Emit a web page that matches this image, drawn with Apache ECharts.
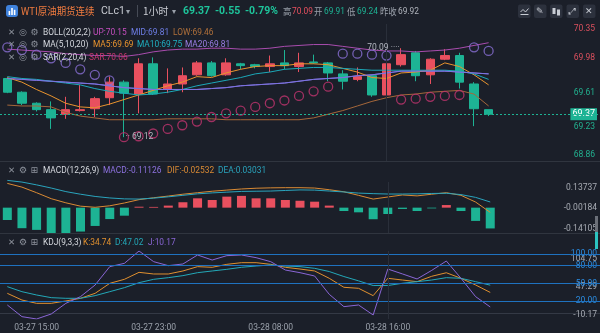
<!DOCTYPE html>
<html>
<head>
<meta charset="utf-8">
<script src="https://cdn.jsdelivr.net/npm/echarts@6/dist/echarts.min.js"></script>
<style>
html,body{margin:0;padding:0;background:#1b1f29;overflow:hidden}
#chart{width:600px;height:333px}
</style>
</head>
<body>
<div id="chart"></div>
<script>
// ---------------- data ----------------
const categories = ['03-27 13:00','03-27 14:00','03-27 15:00','03-27 16:00','03-27 17:00','03-27 18:00','03-27 19:00','03-27 20:00','03-27 21:00','03-27 22:00','03-27 23:00','03-28 00:00','03-28 01:00','03-28 02:00','03-28 03:00','03-28 04:00','03-28 06:00','03-28 07:00','03-28 08:00','03-28 09:00','03-28 10:00','03-28 11:00','03-28 12:00','03-28 13:00','03-28 14:00','03-28 15:00','03-28 16:00','03-28 17:00','03-28 18:00','03-28 19:00','03-28 20:00','03-28 21:00','03-28 22:00','03-28 23:00'];
const tickLabels = ['03-27 15:00','03-27 23:00','03-28 08:00','03-28 16:00'];

const openP  = [69.76,69.61,69.49,69.42,69.37,69.41,69.43,69.55,69.72,69.59,69.92,69.64,69.70,69.80,69.93,69.80,69.92,69.91,69.89,69.93,69.89,69.94,69.93,69.81,69.75,69.79,69.58,69.91,70.04,69.80,69.97,70.01,69.70,69.42];
const closeP = [69.61,69.49,69.42,69.33,69.42,69.42,69.54,69.72,69.60,69.92,69.59,69.70,69.79,69.93,69.79,69.93,69.90,69.89,69.92,69.90,69.93,69.93,69.82,69.73,69.78,69.58,69.92,70.02,69.79,69.97,70.01,69.72,69.43,69.37];
const lowP   = [69.60,69.47,69.40,69.21,69.32,69.40,69.34,69.47,69.12,69.38,69.58,69.60,69.61,69.79,69.78,69.79,69.86,69.87,69.83,69.86,69.83,69.92,69.73,69.64,69.73,69.56,69.57,69.89,69.73,69.70,69.96,69.65,69.24,69.35];
const highP  = [69.77,69.62,69.50,69.51,69.56,69.69,69.56,69.78,69.74,69.98,69.99,69.87,69.88,69.95,69.95,69.98,69.93,69.92,70.01,70.07,70.04,70.02,69.94,69.85,69.88,69.80,69.93,70.09,70.06,69.98,70.08,70.04,69.72,69.42];

const ma5  = [69.77,69.72,69.64,69.57,69.49,69.45,69.44,69.48,69.53,69.58,69.63,69.68,69.72,69.78,69.77,69.82,69.86,69.89,69.90,69.90,69.92,69.92,69.91,69.87,69.83,69.77,69.76,69.82,69.83,69.85,69.93,69.89,69.80,69.69];
const ma10 = [69.78,69.76,69.75,69.73,69.71,69.69,69.65,69.62,69.60,69.58,69.59,69.61,69.64,69.68,69.71,69.74,69.77,69.81,69.83,69.86,69.87,69.88,69.88,69.87,69.86,69.85,69.85,69.85,69.85,69.85,69.85,69.84,69.81,69.75];
const ma20 = [69.76,69.75,69.74,69.73,69.72,69.71,69.70,69.68,69.66,69.65,69.64,69.64,69.64,69.64,69.65,69.66,69.68,69.69,69.70,69.71,69.73,69.75,69.76,69.77,69.79,69.80,69.82,69.84,69.84,69.84,69.84,69.83,69.82,69.81];
const bollUp  = [70.08,70.07,70.06,70.05,70.03,70.02,70.01,70.01,70.00,70.02,70.05,70.07,70.08,70.08,70.09,70.09,70.08,70.08,70.09,70.11,70.12,70.13,70.13,70.11,70.09,70.07,70.06,70.06,70.05,70.06,70.07,70.09,70.12,70.15];
const bollMid = [69.76,69.75,69.74,69.73,69.72,69.71,69.70,69.68,69.66,69.65,69.64,69.64,69.64,69.64,69.65,69.66,69.68,69.69,69.70,69.71,69.73,69.75,69.76,69.77,69.79,69.80,69.82,69.84,69.84,69.84,69.84,69.83,69.82,69.81];
const bollLow = [69.47,69.46,69.46,69.45,69.39,69.35,69.33,69.31,69.31,69.31,69.31,69.32,69.32,69.32,69.32,69.31,69.31,69.31,69.31,69.31,69.31,69.33,69.37,69.41,69.46,69.51,69.55,69.58,69.59,69.61,69.62,69.63,69.59,69.46];
const sar = [70.10,70.07,70.02,69.98,69.93,69.86,69.80,69.74,69.12,69.13,69.16,69.21,69.25,69.29,69.34,69.38,69.41,69.45,69.49,69.52,69.57,69.62,69.67,70.03,70.03,70.02,70.01,69.53,69.54,69.56,69.57,69.58,70.10,70.06];

const macdHist = [-0.066,-0.110,-0.119,-0.141,-0.137,-0.128,-0.098,-0.061,-0.043,0.005,0.004,0.011,0.029,0.050,0.041,0.059,0.063,0.050,0.050,0.041,0.037,0.032,0.011,-0.018,-0.025,-0.062,-0.034,-0.007,-0.018,-0.004,0.014,-0.018,-0.071,-0.11126];
const dif = [0.130,0.110,0.080,0.048,0.026,0.008,0.002,0.010,0.025,0.043,0.053,0.062,0.072,0.080,0.088,0.094,0.100,0.104,0.106,0.107,0.107,0.105,0.096,0.085,0.066,0.046,0.057,0.068,0.063,0.072,0.080,0.066,0.030,-0.02532];
const dea = [0.146,0.137,0.122,0.105,0.086,0.072,0.060,0.052,0.047,0.046,0.051,0.058,0.066,0.074,0.079,0.083,0.087,0.088,0.089,0.092,0.095,0.094,0.089,0.084,0.078,0.075,0.073,0.073,0.074,0.076,0.077,0.070,0.055,0.03031];

const kLine = [33.2,21.9,16.3,16.3,20.3,24.8,33.2,50.1,56.9,68.7,65.9,65.9,71.0,78.3,77.2,82.2,85.0,85.0,82.2,77.2,74.3,71.0,58.6,43.4,41.7,29.3,58.6,55.7,52.9,62.0,68.0,58.6,47.3,34.74];
const dLine = [44.5,36.0,30.4,25.9,24.8,24.8,29.3,36.0,42.8,51.2,56.9,59.7,63.1,68.1,71.0,73.8,77.2,79.4,81.1,79.4,78.3,75.5,70.0,61.6,54.3,46.4,46.4,50.2,52.9,55.7,59.7,58.6,52.9,47.02];
const jLine = [13.5,-6.2,-10.17,-1.7,16.3,27.6,47.3,78.3,83.9,104.75,86.7,80.0,82.8,98.0,89.5,96.9,98.0,93.5,86.7,72.6,68.1,62.5,31.5,10.7,13.5,-3.4,74.3,66.0,57.5,72.0,87.8,58.6,27.6,10.17];
const kdjLevels = [100, 80, 50, 20];

const prevClose = 69.92;
const dayOpen = 69.91;
const mainRange = [68.86, 70.354];
const macdRange = [-0.14105, 0.13737];
const kdjRange  = [-10.17, 104.75];

// ---------------- helpers ----------------
const UP = '#e9505f', DOWN = '#1db394';
const FONT = 'Roboto, "Noto Sans", sans-serif';
const N = categories.length;
const last = N - 1;
const candleData = categories.map((_, i) => [openP[i], closeP[i], lowP[i], highP[i]]);
let maxIdx = 0, minIdx = 0;
highP.forEach((v, i) => { if (v > highP[maxIdx]) maxIdx = i; });
lowP.forEach((v, i) => { if (v < lowP[minIdx]) minIdx = i; });
let dayLow = Infinity;
lowP.forEach((v, i) => { if (categories[i] >= '03-28 06:00' && v < dayLow) dayLow = v; });
const sarAbove = [], sarBelow = [];
sar.forEach((v, i) => { (v > closeP[i] ? sarAbove : sarBelow).push([i, v]); });
const lastClose = closeP[last];
const change = lastClose - prevClose;
const three = r => [r[0], (r[0] + r[1]) / 2, r[1]];
const mainTicks = [0,1,2,3,4].map(i => mainRange[0] + i * (mainRange[1] - mainRange[0]) / 4);
const AX = 8.5;

function edgeRich(color, tp, bp, mp) {
  return {
    T: {color, fontSize: AX, fontFamily: FONT, padding: [tp, 0, 0, 0]},
    M: {color, fontSize: AX, fontFamily: FONT, padding: [mp || 0, 0, 0, 0]},
    B: {color, fontSize: AX, fontFamily: FONT, padding: [0, 0, bp, 0]}
  };
}
function edgeKey(v, r) {
  if (Math.abs(v - r[1]) < 1e-9) return 'T';
  if (Math.abs(v - r[0]) < 1e-9) return 'B';
  return 'M';
}

// ---------------- graphics (header + legends) ----------------
function T(x, y, text, fill, size, family, weight, sx) {
  return {type: 'text', x, y, z: 100, silent: true, scaleX: sx == null ? 0.88 : sx,
    style: {text, fill, font: (weight || 'normal') + ' ' + (size || 9.5) + 'px ' + (family || FONT), verticalAlign: 'middle', align: 'left'}};
}
const ICON = '"DejaVu Sans", sans-serif';
const CJK = '"Noto Sans CJK SC", sans-serif';
const g = [];
// header icon
g.push({type:'rect', shape:{x:6,y:5,width:12,height:12,r:3}, style:{fill:'#3f82dc'}, z:100});
g.push({type:'rect', shape:{x:8.6,y:11,width:1.6,height:4}, style:{fill:'#fff'}, z:101});
g.push({type:'rect', shape:{x:11.2,y:8,width:1.6,height:7}, style:{fill:'#fff'}, z:101});
g.push({type:'rect', shape:{x:13.8,y:9.8,width:1.6,height:5.2}, style:{fill:'#fff'}, z:101});
g.push(T(21, 11.5, 'WTI原油期货连续', '#f07b3f', 10.5, CJK, 'normal', 0.9));
g.push(T(101, 11.5, 'CLc1', '#c9ccd3', 10.5, FONT, 'normal', 1));
g.push(T(126, 11.5, '▾', '#9aa0aa', 8, ICON, 'normal', 1));
g.push({type:'line', shape:{x1:137.5,y1:5,x2:137.5,y2:17}, style:{stroke:'#464b56', lineWidth:1}, z:100});
g.push(T(143, 11.5, '1小时', '#c9ccd3', 10.5, CJK, 'normal', 0.95));
g.push(T(172, 11.5, '▾', '#9aa0aa', 8, ICON, 'normal', 1));
g.push(T(183, 11.5, lastClose.toFixed(2), '#1ec49b', 11, FONT, 'bold', 0.95));
g.push(T(215, 11.5, change.toFixed(2), '#1ec49b', 11, FONT, 'bold', 0.95));
g.push(T(245, 11.5, (change / prevClose * 100).toFixed(2) + '%', '#1ec49b', 11, FONT, 'bold', 0.95));
g.push(T(283, 11.5, '高', '#9aa0aa', 9.5, CJK));
g.push(T(292, 11.5, highP[maxIdx].toFixed(2), UP, 9.5));
g.push(T(314, 11.5, '开', '#9aa0aa', 9.5, CJK));
g.push(T(324, 11.5, dayOpen.toFixed(2), DOWN, 9.5));
g.push(T(347, 11.5, '低', '#9aa0aa', 9.5, CJK));
g.push(T(357, 11.5, dayLow.toFixed(2), DOWN, 9.5));
g.push(T(380, 11.5, '昨收', '#9aa0aa', 9.5, CJK));
g.push(T(398, 11.5, prevClose.toFixed(2), '#b0b4bc', 9.5));
// right buttons
[518, 534, 550, 566.5, 583].forEach(x => g.push({type:'rect', shape:{x, y:4.5, width:12.5, height:13.5, r:2}, style:{fill:'#2c313d'}, z:100}));
g.push({type:'polyline', shape:{points:[[520.5,12],[523,9.5],[525.5,12],[528.5,8.5]]}, style:{stroke:'#c8ccd4', lineWidth:1, fill:null}, z:101});
g.push({type:'line', shape:{x1:520.5,y1:14.5,x2:528.5,y2:14.5}, style:{stroke:'#c8ccd4', lineWidth:1}, z:101});
g.push(T(536, 11.5, '✎', '#c8ccd4', 9, ICON, 'normal', 1));
g.push({type:'rect', shape:{x:552.5,y:8,width:3,height:6}, style:{fill:'#c8ccd4'}, z:101});
g.push({type:'rect', shape:{x:557,y:9.5,width:3,height:6}, style:{fill:'#c8ccd4'}, z:101});
g.push(T(568.5, 11.5, '⤢', '#c8ccd4', 9, ICON, 'normal', 1));
g.push(T(585, 11.5, '✕', '#c8ccd4', 9, ICON, 'normal', 1));

function icons(y, third) {
  g.push(T(8, y, '✕', '#8d929c', 8.5, ICON, 'normal', 1));
  g.push(T(19, y, third ? '⚙' : '◎', '#8d929c', 9, ICON, 'normal', 1));
  g.push(T(30.5, y, third || '⚙', '#8d929c', 9, ICON, 'normal', 1));
}
const W = '#d5d8de';
icons(32.5); icons(45); icons(58);
g.push(T(43, 32.5, 'BOLL(20,2,2)', W));
g.push(T(93, 32.5, 'UP:' + bollUp[last].toFixed(2), '#c64fc0'));
g.push(T(131, 32.5, 'MID:' + bollMid[last].toFixed(2), '#6f7fe8'));
g.push(T(173, 32.5, 'LOW:' + bollLow[last].toFixed(2), '#b0703a'));
g.push(T(43, 45, 'MA(5,10,20)', W));
g.push(T(93, 45, 'MA5:' + ma5[last].toFixed(2), '#e8932e'));
g.push(T(137, 45, 'MA10:' + ma10[last].toFixed(2), '#1fb0c0'));
g.push(T(185, 45, 'MA20:' + ma20[last].toFixed(2), '#9a7fe6'));
g.push(T(43, 58, 'SAR(2,20,4)', W));
g.push(T(89, 58, 'SAR:' + sar[last].toFixed(2), '#c8386f'));
icons(170.5, '⊞');
g.push(T(43, 170.5, 'MACD(12,26,9)', W));
g.push(T(103, 170.5, 'MACD:' + macdHist[last].toFixed(5), '#8e72e0'));
g.push(T(167, 170.5, 'DIF:' + dif[last].toFixed(5), '#d98a34'));
g.push(T(218, 170.5, 'DEA:' + dea[last].toFixed(5), '#2aa4bd'));
icons(242.5, '⊞');
g.push(T(43, 242.5, 'KDJ(9,3,3)', W));
g.push(T(83, 242.5, 'K:' + kLine[last].toFixed(2), '#e0902f'));
g.push(T(115, 242.5, 'D:' + dLine[last].toFixed(2), '#23a8b8'));
g.push(T(148, 242.5, 'J:' + jLine[last].toFixed(2), '#8a66d6'));
// pane separators and side bar
g.push({type:'line', shape:{x1:0,y1:161.5,x2:600,y2:161.5}, style:{stroke:'#30353f', lineWidth:1}, z:50});
g.push({type:'line', shape:{x1:0,y1:233.5,x2:600,y2:233.5}, style:{stroke:'#30353f', lineWidth:1}, z:50});
g.push({type:'rect', shape:{x:595,y:216,width:3,height:16}, style:{fill:'#6b6f78'}, z:100});
g.push({type:'rect', shape:{x:595,y:232,width:3,height:17}, style:{fill:'#2cc3c0'}, z:100});

// ---------------- chart ----------------
const grids = [
  {left: -5.7, right: 0, top: 24, height: 137},
  {left: -5.7, right: 0, top: 182, height: 52},
  {left: -5.7, right: 0, top: 251, height: 68}
];
const xAxes = [0,1,2].map(i => ({
  type: 'category', gridIndex: i, data: categories, max: 40, boundaryGap: true,
  axisLine: {show: i === 2, lineStyle: {color: '#343945'}},
  axisTick: {show: false},
  axisLabel: {show: i === 2, interval: (idx, v) => tickLabels.indexOf(v) >= 0, color: '#9aa0aa', fontSize: AX, fontFamily: FONT, margin: 4},
  splitLine: {show: false}
}));
const baseY = {type: 'value', position: 'right', axisLine: {show: false}, axisTick: {show: false}, splitLine: {show: false}};
const yAxes = [
  Object.assign({}, baseY, {gridIndex: 0, min: mainRange[0], max: mainRange[1],
    axisLabel: {inside: true, margin: 3, customValues: mainTicks,
      formatter: v => '{' + (v >= prevClose ? 'r' : 'g') + edgeKey(v, mainRange) + '|' + v.toFixed(2) + '}',
      rich: Object.assign({}, ...Object.entries(edgeRich('#d9505e', 10, 12)).map(([k, s]) => ({['r' + k]: s})),
                              ...Object.entries(edgeRich('#22b08f', 10, 12)).map(([k, s]) => ({['g' + k]: s})))}}),
  Object.assign({}, baseY, {gridIndex: 0, min: mainRange[0], max: mainRange[1],
    axisLabel: {inside: true, margin: 1, customValues: [lastClose], formatter: v => v.toFixed(2),
      color: '#fff', backgroundColor: DOWN, padding: [2, 2, 1, 2], fontSize: 9, fontFamily: FONT}}),
  Object.assign({}, baseY, {gridIndex: 1, min: macdRange[0], max: macdRange[1],
    axisLabel: {inside: true, margin: 3, customValues: three(macdRange),
      formatter: v => '{' + edgeKey(v, macdRange) + '|' + v.toFixed(5) + '}', rich: edgeRich('#a7abb3', 12, 10)}}),
  Object.assign({}, baseY, {gridIndex: 2, min: kdjRange[0], max: kdjRange[1],
    axisLabel: {inside: true, margin: 3, customValues: three(kdjRange),
      formatter: v => '{' + edgeKey(v, kdjRange) + '|' + v.toFixed(2) + '}', rich: edgeRich('#a7abb3', 16, 8, 4)}}),
  Object.assign({}, baseY, {gridIndex: 2, min: kdjRange[0], max: kdjRange[1],
    axisLabel: {inside: true, margin: 3, customValues: kdjLevels, formatter: v => v.toFixed(2),
      color: '#2a8be0', fontSize: AX, fontFamily: FONT}})
];

function line(name, data, color, xi, yi, extra) {
  return Object.assign({type: 'line', name, data, xAxisIndex: xi, yAxisIndex: yi, symbol: 'none', showSymbol: false,
    lineStyle: {color, width: 1}, itemStyle: {color}, z: 3, silent: true}, extra || {});
}
function sarSeries(name, data, color) {
  return {type: 'scatter', name, data, xAxisIndex: 0, yAxisIndex: 0, symbol: 'circle', symbolSize: 9, z: 4, silent: true,
    itemStyle: {color: 'rgba(0,0,0,0)', borderColor: color, borderWidth: 1.3}};
}
const vline = {xAxis: tickLabels[3], lineStyle: {color: '#2a2f3a', type: 'solid', width: 1}};

const option = {
  backgroundColor: '#1b1f29',
  animation: false,
  textStyle: {fontFamily: FONT},
  grid: grids,
  xAxis: xAxes,
  yAxis: yAxes,
  graphic: {elements: g},
  series: [
    {type: 'candlestick', name: 'CLc1', data: candleData, xAxisIndex: 0, yAxisIndex: 0, barWidth: 9, silent: true,
      itemStyle: {color: UP, color0: DOWN, borderColor: UP, borderColor0: DOWN, borderWidth: 1},
      markPoint: {symbol: 'circle', symbolSize: 1, silent: true, itemStyle: {color: 'rgba(0,0,0,0)'},
        data: [
          {coord: [maxIdx, highP[maxIdx]], label: {show: true, position: 'left', distance: 1, formatter: highP[maxIdx].toFixed(2) + ' ····', color: '#b5b9c2', fontSize: AX, fontFamily: FONT}},
          {coord: [minIdx, lowP[minIdx]], label: {show: true, position: 'right', distance: 1, formatter: '·· ' + lowP[minIdx].toFixed(2), color: '#b5b9c2', fontSize: AX, fontFamily: FONT}}
        ]},
      markLine: {symbol: 'none', silent: true, label: {show: false},
        data: [{yAxis: lastClose, lineStyle: {color: DOWN, type: [2, 2], width: 1}}, vline]}},
    line('BOLL UP', bollUp, '#a94cae', 0, 0),
    line('BOLL MID', bollMid, '#7d72e0', 0, 0),
    line('BOLL LOW', bollLow, '#a5673a', 0, 0),
    line('MA5', ma5, '#e8932e', 0, 0),
    line('MA10', ma10, '#1ba8b8', 0, 0),
    line('MA20', ma20, '#7d72e0', 0, 0),
    sarSeries('SAR up', sarAbove, '#8a6fd6'),
    sarSeries('SAR down', sarBelow, '#c2346f'),
    {type: 'bar', name: 'MACD', data: macdHist, xAxisIndex: 1, yAxisIndex: 2, barWidth: 9, silent: true,
      itemStyle: {color: p => p.value >= 0 ? UP : DOWN},
      markLine: {symbol: 'none', silent: true, label: {show: false}, data: [vline]}},
    line('DIF', dif, '#d98a34', 1, 2, {clip: false}),
    line('DEA', dea, '#2aa4bd', 1, 2, {clip: false}),
    line('K', kLine, '#e0902f', 2, 3, {
      markLine: {symbol: 'none', silent: true, label: {show: false},
        data: kdjLevels.map(v => ({yAxis: v, lineStyle: {color: '#1f72c0', type: 'solid', width: 1}})).concat([vline])}}),
    line('D', dLine, '#23a8b8', 2, 3),
    line('J', jLine, '#8a66d6', 2, 3)
  ]
};
const chart = echarts.init(document.getElementById('chart'));
chart.setOption(option);
</script>
</body>
</html>
